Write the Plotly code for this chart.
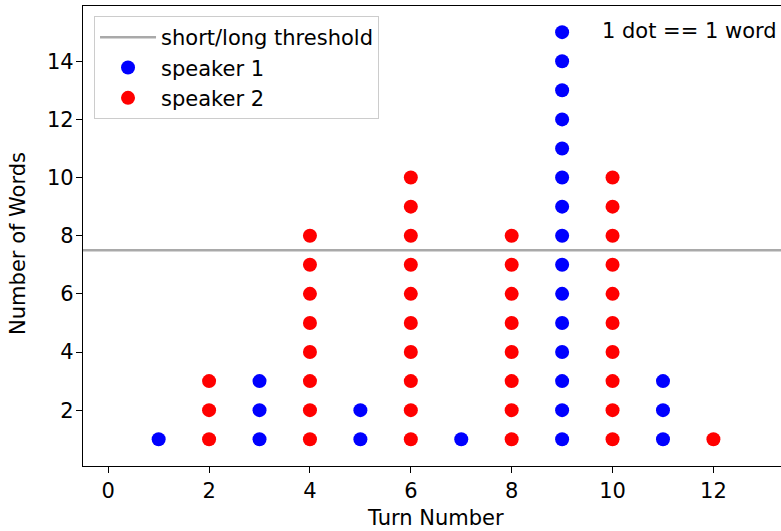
import plotly.graph_objects as go

# Words spoken per turn; odd turns belong to speaker 1, even turns to speaker 2
turns = [1, 2, 3, 4, 5, 6, 7, 8, 9, 10, 11, 12]
words_per_turn = [1, 3, 3, 8, 2, 10, 1, 8, 15, 10, 3, 1]
speaker_of_turn = [1, 2, 1, 2, 1, 2, 1, 2, 1, 2, 1, 2]
threshold = 7.5

speaker_names = {1: "speaker 1", 2: "speaker 2"}
speaker_colors = {1: "#0000ff", 2: "#ff0000"}

FONT = "DejaVu Sans"
FS = 21

fig = go.Figure()

# one dot per word, stacked upward within each turn
for spk in (1, 2):
    xs, ys = [], []
    for t, n, s in zip(turns, words_per_turn, speaker_of_turn):
        if s == spk:
            xs.extend([t] * n)
            ys.extend(range(1, n + 1))
    fig.add_trace(go.Scatter(
        x=xs, y=ys, mode="markers", name=speaker_names[spk],
        legendgroup=speaker_names[spk], legendrank=spk + 1,
        marker=dict(color=speaker_colors[spk], size=14, line=dict(width=0)),
    ))

# horizontal threshold separating short and long turns
fig.add_shape(
    type="line", xref="x domain", x0=0, x1=1, yref="y", y0=threshold, y1=threshold,
    line=dict(color="#a9a9a9", width=2.5), layer="below",
    showlegend=True, name="short/long threshold", legendgroup="thr", legendrank=1,
)

fig.add_annotation(
    text="1 dot == 1 word", xref="x", yref="y", x=9.76, y=15.03,
    xanchor="left", yanchor="middle", showarrow=False,
    font=dict(family=FONT, size=FS, color="black"),
)
fig.add_annotation(
    text="Turn Number", xref="paper", yref="paper", x=0.5057, y=-0.113,
    xanchor="center", yanchor="middle", showarrow=False,
    font=dict(family=FONT, size=FS, color="black"),
)
fig.add_annotation(
    text="Number of Words", xref="paper", yref="paper", x=-0.093, y=0.483,
    xanchor="center", yanchor="middle", textangle=-90, showarrow=False,
    font=dict(family=FONT, size=FS, color="black"),
)

axis_common = dict(
    showgrid=False, zeroline=False, showline=True, linecolor="black", linewidth=1.3,
    ticks="outside", ticklen=6, tickwidth=1.3, tickcolor="black",
    tickfont=dict(family=FONT, size=FS, color="black"),
)
fig.update_xaxes(range=[-0.5, 13.34], tick0=0, dtick=2, mirror=True, **axis_common)
fig.update_yaxes(range=[0.08, 15.9], tick0=0, dtick=2, mirror=False,
                 ticklabelstandoff=-2, **axis_common)

fig.update_layout(
    width=781, height=531,
    margin=dict(l=83, r=0, t=6, b=65),
    paper_bgcolor="white", plot_bgcolor="white",
    font=dict(family=FONT, size=FS, color="black"),
    legend=dict(
        x=0.0158, y=0.978, xanchor="left", yanchor="top",
        bgcolor="rgba(255,255,255,0.8)", bordercolor="#cccccc", borderwidth=1,
        font=dict(family=FONT, size=FS, color="black"),
        tracegroupgap=0, itemwidth=56,
    ),
)

fig.write_html("out.html")
